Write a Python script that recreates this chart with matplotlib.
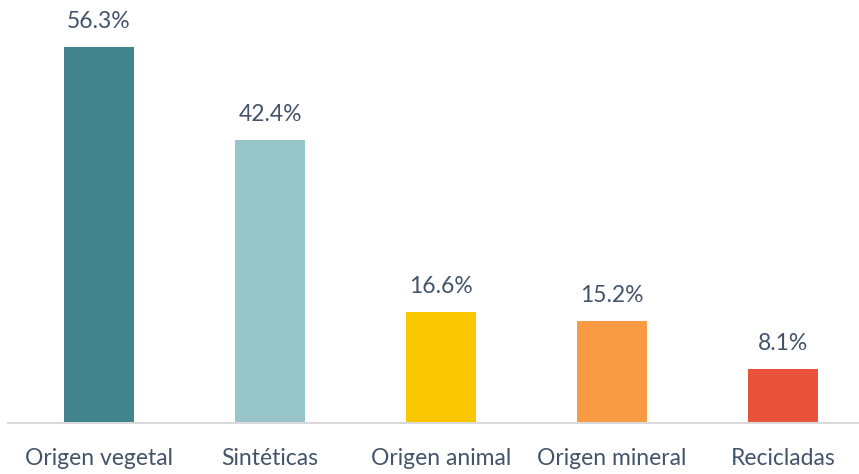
import matplotlib
matplotlib.use("Agg")
import matplotlib.pyplot as plt

categories = ["Origen vegetal", "Sintéticas", "Origen animal", "Origen mineral", "Recicladas"]
values = [56.3, 42.4, 16.6, 15.2, 8.1]
colors = ["#42848D", "#97C5C9", "#FBC700", "#F89B43", "#EA533B"]

plt.rcParams['font.family'] = ['Lato', 'DejaVu Sans']
text_color = "#44546A"

fig = plt.figure(figsize=(8.59, 4.74), dpi=100)
ax = fig.add_axes([8 / 859, 0.1076, 851 / 859, 0.8924])

x = range(len(categories))
bars = ax.bar(x, values, width=0.41, color=colors)

for b, v in zip(bars, values):
    ax.annotate(f"{v:.1f}%", (b.get_x() + b.get_width() / 2, v),
                xytext=(0, 19), textcoords="offset pixels",
                ha="center", va="baseline", fontsize=16.5, color=text_color)

ax.set_xlim(-0.532, 4.444)
ax.set_ylim(0, 63.3)
ax.set_xticks(list(x))
ax.set_xticklabels(categories, fontsize=16.5, color=text_color)
ax.tick_params(axis="x", length=0, pad=18)
ax.set_yticks([])
for s in ["top", "right", "left"]:
    ax.spines[s].set_visible(False)
ax.spines["bottom"].set_color("#D9D9D9")
ax.spines["bottom"].set_linewidth(1.5)

fig.savefig("out.png", dpi=100)
